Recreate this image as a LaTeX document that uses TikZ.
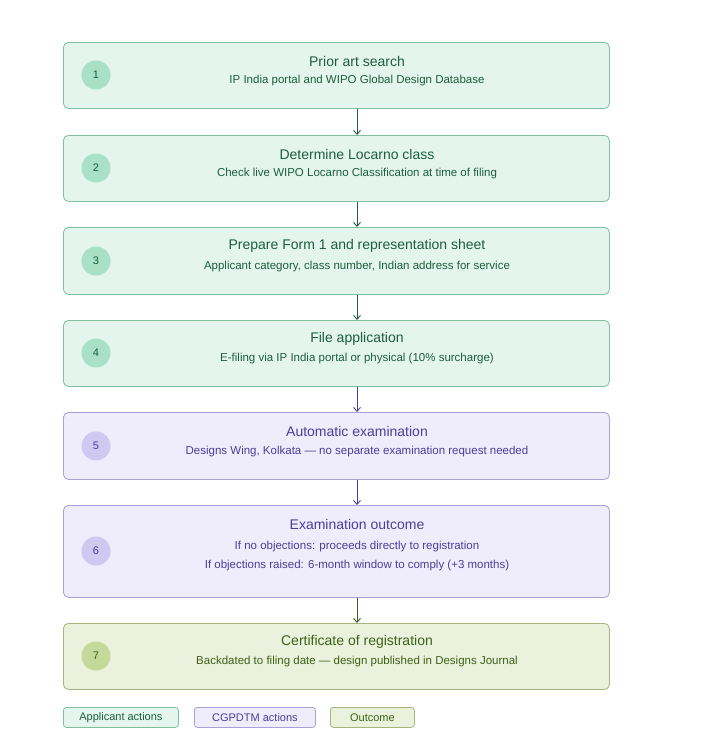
\documentclass[tikz,border=0pt]{standalone}
\usepackage{fontspec}
\setmainfont{Liberation Sans}
\usetikzlibrary{arrows.meta}
\definecolor{gfill}{HTML}{E3F5EC}
\definecolor{gline}{HTML}{80BFA0}
\definecolor{gtext}{HTML}{1E5E40}
\definecolor{gdot}{HTML}{A8E0C8}
\definecolor{pfill}{HTML}{EFECFC}
\definecolor{pline}{HTML}{A8A0D8}
\definecolor{ptext}{HTML}{4A3F9A}
\definecolor{pdot}{HTML}{CFC8F0}
\definecolor{ofill}{HTML}{EAF1DC}
\definecolor{oline}{HTML}{A5B57C}
\definecolor{otext}{HTML}{3E6218}
\definecolor{odot}{HTML}{C2D99A}
\tikzset{
  step/.style={draw=#1line, fill=#1fill, rounded corners=5pt, anchor=north west,
    minimum width=546pt, line width=0.8pt},
  dot/.style={circle, fill=#1dot, text=#1text, minimum size=29pt, inner sep=0pt,
    font=\fontsize{11}{13}\selectfont},
  ttl/.style={text=#1text, font=\fontsize{14}{16}\selectfont, inner sep=0pt},
  sub/.style={text=#1text, font=\fontsize{11.5}{19}\selectfont, inner sep=0pt, align=center},
  flow/.style={-{Straight Barb[length=4pt,width=7pt]}, line width=0.9pt, draw=#1text},
  key/.style={draw=#1line, fill=#1fill, text=#1text, rounded corners=3pt, anchor=north west,
    minimum height=20pt, font=\fontsize{11}{13}\selectfont, line width=0.8pt}
}
\begin{document}
\begin{tikzpicture}[x=1pt,y=-1pt]
\useasboundingbox (0,0) rectangle (715,736);

\node[step=g, minimum height=66pt] (b1) at (63,42) {};
\node[dot=g] (d1) at (96,75) {1};
\node[ttl=g] (t1) at (357,61) {Prior art search};
\node[sub=g] at (357,81) {IP India portal and WIPO Global Design Database};

\node[step=g, minimum height=66pt] (b2) at (63,135) {};
\node[dot=g] (d2) at (96,168) {2};
\node[ttl=g] (t2) at (357,154) {Determine Locarno class};
\node[sub=g] at (357,174) {Check live WIPO Locarno Classification at time of filing};

\node[step=g, minimum height=67pt] (b3) at (63,227) {};
\node[dot=g] (d3) at (96,261) {3};
\node[ttl=g] (t3) at (357,246) {Prepare Form 1 and representation sheet};
\node[sub=g] at (357,267) {Applicant category, class number, Indian address for service};

\node[step=g, minimum height=66pt] (b4) at (63,320) {};
\node[dot=g] (d4) at (96,353) {4};
\node[ttl=g] (t4) at (357,339) {File application};
\node[sub=g] at (357,359) {E-filing via IP India portal or physical (10\% surcharge)};

\node[step=p, minimum height=67pt] (b5) at (63,412) {};
\node[dot=p] (d5) at (96,446) {5};
\node[ttl=p] (t5) at (357,431) {Automatic examination};
\node[sub=p] at (357,452) {Designs Wing, Kolkata — no separate examination request needed};

\node[step=p, minimum height=92pt] (b6) at (63,505) {};
\node[dot=p] (d6) at (96,551) {6};
\node[ttl=p] (t6) at (357,524) {Examination outcome};
\node[sub=p] at (357,556) {If no objections: proceeds directly to registration\\
  If objections raised: 6-month window to comply (+3 months)};

\node[step=o, minimum height=66pt] (b7) at (63,623) {};
\node[dot=o] (d7) at (96,656) {7};
\node[ttl=o] (t7) at (357,642) {Certificate of registration};
\node[sub=o] at (357,662) {Backdated to filing date — design published in Designs Journal};

\draw[flow=g] (b1.south -| t1) -- (b2.north -| t1);
\draw[flow=g] (b2.south -| t1) -- (b3.north -| t1);
\draw[flow=g] (b3.south -| t1) -- (b4.north -| t1);
\draw[flow=p] (b4.south -| t1) -- (b5.north -| t1);
\draw[flow=p] (b5.south -| t1) -- (b6.north -| t1);
\draw[flow=o] (b6.south -| t1) -- (b7.north -| t1);

% legend
\node[key=g, minimum width=115pt] (k1) at (63,707) {Applicant actions};
\node[key=p, minimum width=121pt] (k2) at (194,707) {CGPDTM actions};
\node[key=o, minimum width=84pt] (k3) at (330,707) {Outcome};

\end{tikzpicture}
\end{document}
